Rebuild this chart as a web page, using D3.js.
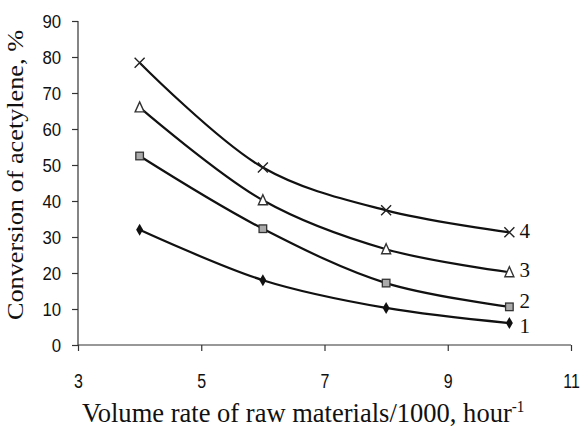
<!DOCTYPE html>
<html>
<head>
<meta charset="utf-8">
<script src="https://cdn.jsdelivr.net/npm/d3@7"></script>
<style>
  body { margin: 0; background: #fff; }
  .tick text { font-family: "Liberation Sans", Arial, sans-serif; font-size: 16px; fill: #111; }
  .axis-title { font-family: "Liberation Serif", "Times New Roman", serif; fill: #111; }
  .curve-label { font-family: "Liberation Serif", "Times New Roman", serif; font-size: 21px; fill: #111; }
</style>
</head>
<body>
<div id="chart"></div>
<script>
// chart data
var rates = [4, 6, 8, 10];
var series1 = [32, 18, 10.3, 6.1];
var series2 = [52.5, 32.3, 17.2, 10.6];
var series3 = [66, 40.2, 26.6, 20.2];
var series4 = [78.4, 49.3, 37.4, 31.3];
var seriesNames = ["1", "2", "3", "4"];
var xTicks = [3, 5, 7, 9, 11];
var yTicks = [0, 10, 20, 30, 40, 50, 60, 70, 80, 90];

var svgWidth = 582;
var svgHeight = 429;

var margin = { top: 21, right: 11, bottom: 84, left: 78 };
var width = svgWidth - margin.left - margin.right;
var height = svgHeight - margin.top - margin.bottom;

var svg = d3.select("#chart")
  .append("svg")
  .attr("width", svgWidth)
  .attr("height", svgHeight);

var chartGroup = svg.append("g")
  .attr("transform", `translate(${margin.left}, ${margin.top})`);

var xScale = d3.scaleLinear().domain([3, 11]).range([0, width]);
var yScale = d3.scaleLinear().domain([0, 90]).range([height, 0]);

// axes
var bottomAxis = d3.axisBottom(xScale).tickValues(xTicks).tickSize(6);
var leftAxis = d3.axisLeft(yScale).tickValues(yTicks).tickSize(6).tickPadding(10);

var xAxis = chartGroup.append("g")
  .attr("transform", `translate(0, ${height})`)
  .call(bottomAxis);

var yAxis = chartGroup.append("g")
  .call(leftAxis);

[xAxis, yAxis].forEach(function(ax) {
  ax.select(".domain").attr("stroke", "#333").attr("stroke-width", 1.2);
  ax.selectAll(".tick line").attr("stroke", "#333").attr("stroke-width", 1.2);
});
xAxis.select(".domain").attr("d", `M0,0H${width}`);
yAxis.select(".domain").attr("d", `M0,0V${height}`);

// the tick digits in the picture are tall and narrow: stretch them vertically
xAxis.selectAll(".tick text")
  .attr("y", 0)
  .attr("dy", "0.36em")
  .attr("transform", "translate(0, 35.5) scale(1, 1.3)");
yAxis.selectAll(".tick text")
  .attr("transform", "scale(1.05, 1.2)");

// curves
var allSeries = [series1, series2, series3, series4];
var line = d3.line()
  .x(function(d, i) { return xScale(rates[i]); })
  .y(function(d) { return yScale(d); })
  .curve(d3.curveCatmullRom.alpha(0.5));

allSeries.forEach(function(vals) {
  chartGroup.append("path")
    .attr("d", line(vals))
    .attr("fill", "none")
    .attr("stroke", "#111")
    .attr("stroke-width", 2.2);
});

// markers
function drawMarker(g, kind, cx, cy) {
  if (kind === 0) {
    g.append("path")
      .attr("d", d3.symbol().type(d3.symbolDiamond).size(42)())
      .attr("transform", `translate(${cx},${cy})`)
      .attr("fill", "#111");
  } else if (kind === 1) {
    g.append("rect")
      .attr("x", cx - 3.8).attr("y", cy - 3.8)
      .attr("width", 7.6).attr("height", 7.6)
      .attr("fill", "#aaa").attr("stroke", "#333").attr("stroke-width", 1.3);
  } else if (kind === 2) {
    g.append("path")
      .attr("d", `M${cx},${cy - 5.5}L${cx + 4.5},${cy + 4.5}L${cx - 4.5},${cy + 4.5}Z`)
      .attr("fill", "#fff").attr("stroke", "#333").attr("stroke-width", 1.4);
  } else {
    g.append("path")
      .attr("d", `M${cx - 5},${cy - 5}L${cx + 5},${cy + 5}M${cx + 5},${cy - 5}L${cx - 5},${cy + 5}`)
      .attr("stroke", "#222").attr("stroke-width", 1.4);
  }
}

var markerGroup = chartGroup.append("g");
allSeries.forEach(function(vals, k) {
  vals.forEach(function(v, i) {
    drawMarker(markerGroup, k, xScale(rates[i]), yScale(v));
  });
});

// curve numbers at right (small nudges so 1 and 2 do not touch)
var labelNudge = [3, -6, -2, -1];
allSeries.forEach(function(vals, k) {
  chartGroup.append("text")
    .attr("class", "curve-label")
    .attr("x", xScale(rates[rates.length - 1]) + 10)
    .attr("y", yScale(vals[vals.length - 1]) + 7 + labelNudge[k])
    .text(seriesNames[k]);
});

// x axis title: one text with a superscript tspan, squeezed to the picture's width
var xTitle = svg.append("text")
  .attr("class", "axis-title")
  .attr("font-size", "28px");
var mainPart = xTitle.append("tspan").text("Volume rate of raw materials/1000, hour");
xTitle.append("tspan").attr("font-size", "16px").attr("dy", -10).text("-1");
var natural = mainPart.node().getComputedTextLength();
var sx = 430 / natural;
xTitle.attr("transform", `translate(82, 422) scale(${sx}, 1)`);

svg.append("text")
  .attr("class", "axis-title")
  .attr("transform", "translate(23, 175) rotate(-90)")
  .attr("x", 0)
  .attr("y", 0)
  .attr("font-size", "24px")
  .attr("text-anchor", "middle")
  .attr("textLength", 290)
  .attr("lengthAdjust", "spacingAndGlyphs")
  .text("Conversion of acetylene, %");
</script>
</body>
</html>
